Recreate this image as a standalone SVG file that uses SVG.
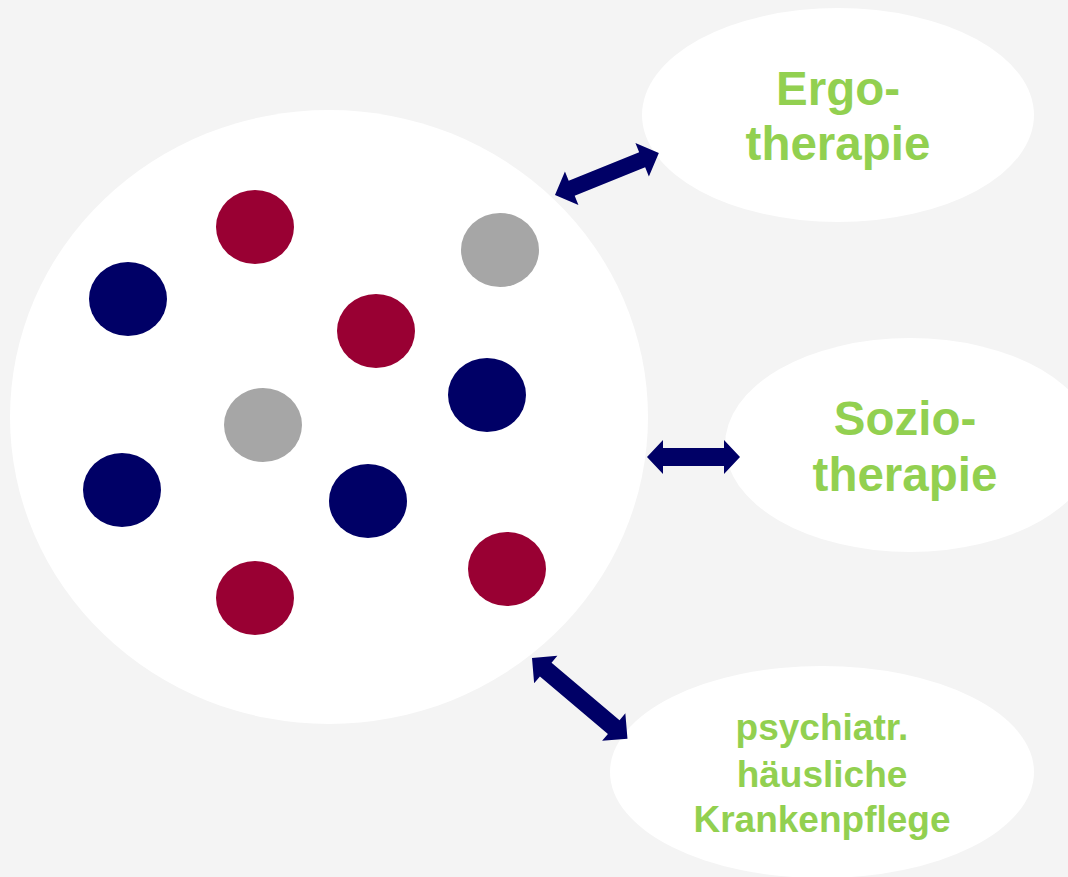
<svg xmlns="http://www.w3.org/2000/svg" width="1068" height="877" viewBox="0 0 1068 877">
<style>
.bubble{fill:#ffffff}
.lbl{font-family:"Liberation Sans",Arial,sans-serif;font-weight:bold;fill:#92d050;text-anchor:middle}
.red{fill:#990033}
.blue{fill:#000066}
.gray{fill:#a6a6a6}
.arr{fill:#000066}
</style>
<rect width="1068" height="877" fill="#f4f4f4"/>
<g id="group-circle">
<ellipse class="bubble" cx="329" cy="417" rx="319" ry="307"/>
<ellipse class="red" cx="255" cy="227" rx="39" ry="37"/>
<ellipse class="blue" cx="128" cy="299" rx="39" ry="37"/>
<ellipse class="gray" cx="500" cy="250" rx="39" ry="37"/>
<ellipse class="red" cx="376" cy="331" rx="39" ry="37"/>
<ellipse class="blue" cx="487" cy="395" rx="39" ry="37"/>
<ellipse class="gray" cx="263" cy="425" rx="39" ry="37"/>
<ellipse class="blue" cx="122" cy="490" rx="39" ry="37"/>
<ellipse class="blue" cx="368" cy="501" rx="39" ry="37"/>
<ellipse class="red" cx="507" cy="569" rx="39" ry="37"/>
<ellipse class="red" cx="255" cy="598" rx="39" ry="37"/>
</g>
<g id="node-ergo">
<ellipse class="bubble" cx="838" cy="115" rx="196" ry="107"/>
<text class="lbl" x="838" y="105" font-size="47.5">Ergo-</text>
<text class="lbl" x="838" y="160" font-size="47.5">therapie</text>
</g>
<g id="node-sozio">
<ellipse class="bubble" cx="910" cy="445" rx="185" ry="107"/>
<text class="lbl" x="905" y="435" font-size="47.5">Sozio-</text>
<text class="lbl" x="905" y="491" font-size="47.5">therapie</text>
</g>
<g id="node-pflege">
<ellipse class="bubble" cx="822" cy="772" rx="212" ry="106"/>
<text class="lbl" x="822" y="740" font-size="37">psychiatr.</text>
<text class="lbl" x="822" y="787" font-size="37">häusliche</text>
<text class="lbl" x="822" y="832" font-size="37">Krankenpflege</text>
</g>
<g id="connectors">
<path class="arr" transform="translate(555,195) rotate(-22)" d="M0,0 L18,-18 L18,-8 L94,-8 L94,-18 L112,0 L94,18 L94,8 L18,8 L18,18 Z"/>
<path class="arr" transform="translate(647,457)" d="M0,0 L16,-17 L16,-9 L77,-9 L77,-17 L93,0 L77,17 L77,9 L16,9 L16,17 Z"/>
<path class="arr" transform="translate(532,658) rotate(40.2)" d="M0,0 L18,-18 L18,-9 L107,-9 L107,-18 L125,0 L107,18 L107,9 L18,9 L18,18 Z"/>
</g>
</svg>
